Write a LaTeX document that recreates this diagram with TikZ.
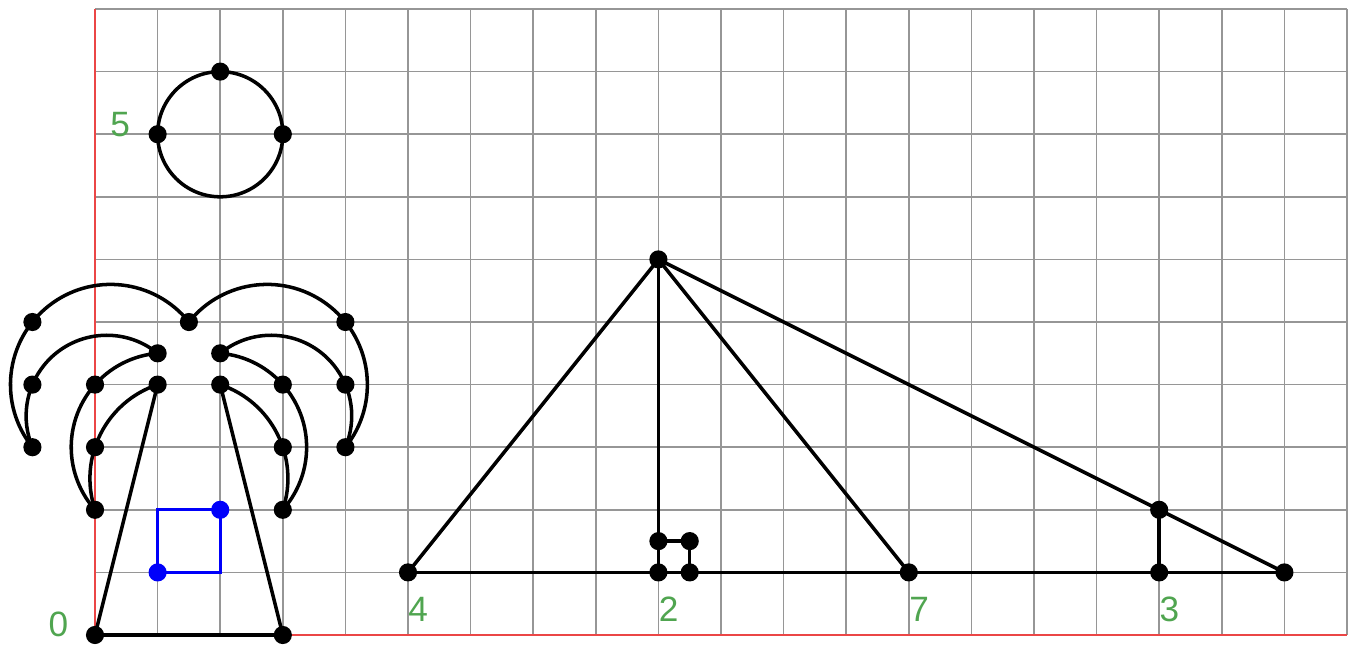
\documentclass[tikz,border=0pt]{standalone}
\usepackage{fontspec}
\setmainfont{Liberation Sans}
\definecolor{gridc}{RGB}{150,150,150}
\definecolor{axisc}{RGB}{235,70,70}
\definecolor{lblc}{RGB}{80,165,80}
\definecolor{bluec}{RGB}{0,0,250}
\tikzset{
  dot/.style={circle,fill=black,inner sep=0pt,minimum size=0.29cm},
  bdot/.style={circle,fill=bluec,inner sep=0pt,minimum size=0.29cm},
  seg/.style={line width=1.6pt,black},
  bseg/.style={line width=1.5pt,bluec},
  lbl/.style={text=lblc,font=\fontsize{16}{18}\selectfont,inner sep=0pt,anchor=base west},
}
\begin{document}
\begin{tikzpicture}
\useasboundingbox (-1.518,-0.176) rectangle (20.144,10.144);
\fill[white] (-1.518,-0.176) rectangle (20.144,10.144);
% grid and axes
\draw[gridc,line width=0.7pt] (0,0) grid (20,10);
\draw[axisc,line width=0.8pt] (0,0) -- (20,0);
\draw[axisc,line width=0.8pt] (0,0) -- (0,10);
% coordinates
\coordinate (c1) at (2,9);
\coordinate (c2) at (1,8);
\coordinate (c3) at (3,8);
\coordinate (o) at (0,0);
\coordinate (t3) at (3,0);
\coordinate (l4) at (1,4);
\coordinate (r4) at (2,4);
\coordinate (top) at (1.5,5);
\coordinate (a1) at (-1,5);
\coordinate (a2) at (-1,4);
\coordinate (a3) at (-1,3);
\coordinate (b1) at (0,4);
\coordinate (b2) at (0,3);
\coordinate (b3) at (0,2);
\coordinate (lm) at (1,4.5);
\coordinate (rm) at (2,4.5);
\coordinate (d1) at (4,5);
\coordinate (d2) at (4,4);
\coordinate (d3) at (4,3);
\coordinate (e1) at (3,4);
\coordinate (e2) at (3,3);
\coordinate (e3) at (3,2);
\coordinate (s1) at (1,1);
\coordinate (s2) at (2,2);
\coordinate (P4) at (5,1);
\coordinate (P2) at (9,1);
\coordinate (P7) at (13,1);
\coordinate (P3) at (17,1);
\coordinate (P8) at (19,1);
\coordinate (A) at (9,6);
\coordinate (Q) at (17,2);
\coordinate (m1) at (9,1.5);
\coordinate (m2) at (9.5,1.5);
\coordinate (m3) at (9.5,1);
% circle
\draw[seg] (2,8) circle[radius=1];
% trunk
\draw[seg] (o) -- (t3);
\draw[seg] (o) -- (l4);
\draw[seg] (t3) -- (r4);
% fronds left
\draw[seg] (top) arc[start angle=38.66, end angle=218.66, radius=1.6008];
\draw[seg] (lm) arc[start angle=50.91, end angle=202.83, radius=1.2885];
\draw[seg] (lm) arc[start angle=94.76, end angle=221.63, radius=1.5052];
\draw[seg] (l4) arc[start angle=108.43, end angle=198.43, radius=1.5811];
% fronds right
\draw[seg] (top) arc[start angle=141.34, end angle=-38.66, radius=1.6008];
\draw[seg] (rm) arc[start angle=129.09, end angle=-22.83, radius=1.2885];
\draw[seg] (rm) arc[start angle=85.24, end angle=-41.63, radius=1.5052];
\draw[seg] (r4) arc[start angle=71.57, end angle=-18.43, radius=1.5811];
% blue square
\draw[bseg] (s1) rectangle (s2);
% triangle
\draw[seg] (P4) -- (P8);
\draw[seg] (P4) -- (A);
\draw[seg] (A) -- (P2);
\draw[seg] (A) -- (P7);
\draw[seg] (A) -- (P8);
\draw[seg] (P3) -- (Q);
\draw[seg] (m1) -- (m2) -- (m3);
% dots
\foreach \p in {c1,c2,c3,o,t3,l4,r4,top,a1,a2,a3,b1,b2,b3,lm,rm,d1,d2,d3,e1,e2,e3,P4,P2,P7,P3,P8,A,Q,m1,m2,m3}
  \node[dot] at (\p) {};
\node[bdot] (bs1) at (s1) {};
\node[bdot] (bs2) at (s2) {};
% labels
\node[lbl] (L5) at (0.24,7.96) {5};
\node[lbl] (L0) at (-0.75,-0.03) {0};
\node[lbl] (L4) at (5.0,0.21) {4};
\node[lbl] (L2) at (9.0,0.21) {2};
\node[lbl] (L7) at (13.0,0.21) {7};
\node[lbl] (L3) at (17.0,0.21) {3};
\end{tikzpicture}
\end{document}
